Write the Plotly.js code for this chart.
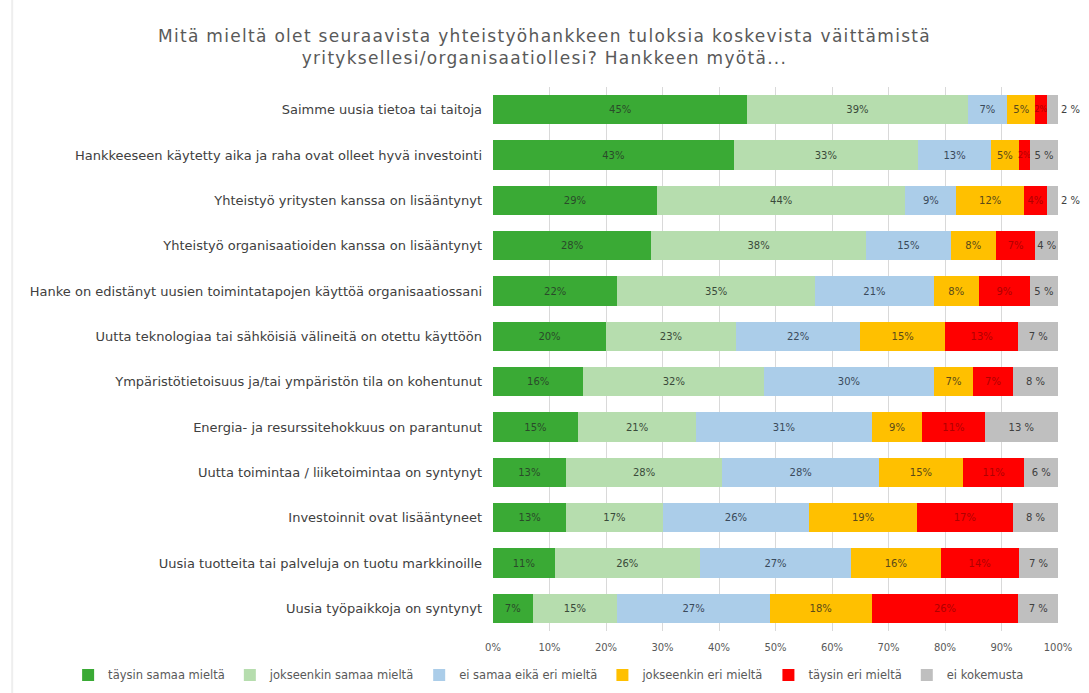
<!DOCTYPE html>
<html>
<head>
<meta charset="utf-8">
<script src="https://cdn.plot.ly/plotly-3.0.1.min.js"></script>
<style>
html,body{margin:0;padding:0;background:#fff;}
#chart{width:1089px;height:693px;}
#chart .gtitle{letter-spacing:1.3px;}
</style>
</head>
<body>
<div id="chart"></div>
<script>
const categories = [
  "Saimme uusia tietoa tai taitoja",
  "Hankkeeseen käytetty aika ja raha ovat olleet hyvä investointi",
  "Yhteistyö yritysten kanssa on lisääntynyt",
  "Yhteistyö organisaatioiden kanssa on lisääntynyt",
  "Hanke on edistänyt uusien toimintatapojen käyttöä organisaatiossani",
  "Uutta teknologiaa tai sähköisiä välineitä on otettu käyttöön",
  "Ympäristötietoisuus ja/tai ympäristön tila on kohentunut",
  "Energia- ja resurssitehokkuus on parantunut",
  "Uutta toimintaa / liiketoimintaa on syntynyt",
  "Investoinnit ovat lisääntyneet",
  "Uusia tuotteita tai palveluja on tuotu markkinoille",
  "Uusia työpaikkoja on syntynyt"
];
const seriesNames = ["täysin samaa mieltä","jokseenkin samaa mieltä","ei samaa eikä eri mieltä","jokseenkin eri mieltä","täysin eri mieltä","ei kokemusta"];
const taysinSamaa     = [45,43,29,28,22,20,16,15,13,13,11,7];
const jokseenkinSamaa = [39,33,44,38,35,23,32,21,28,17,26,15];
const eiSamaaEikaEri  = [7,13,9,15,21,22,30,31,28,26,27,27];
const jokseenkinEri   = [5,5,12,8,8,15,7,9,15,19,16,18];
const taysinEri       = [2,2,4,7,9,13,7,11,11,17,14,26];
const eiKokemusta     = [2,5,2,4,5,7,8,13,6,8,7,7];
const tickValues = [0,10,20,30,40,50,60,70,80,90,100];
const tickLabels = ["0%","10%","20%","30%","40%","50%","60%","70%","80%","90%","100%"];

const seriesValues = [taysinSamaa, jokseenkinSamaa, eiSamaaEikaEri, jokseenkinEri, taysinEri, eiKokemusta];
const colors = ["#3aaa35","#b6ddae","#abcde9","#ffc000","#ff0000","#bfbfbf"];
const textColors = ["#2a4a2a","#3a4a3a","#3a4a5a","#5a4a1a","#b00000","#404040"];
const suffix = ["%","%","%","%","%"," %"];
const FONT = "DejaVu Sans, Verdana, sans-serif";

const traces = seriesValues.map((vals, i) => {
  const isLast = i === seriesValues.length - 1;
  return {
    type: "bar",
    orientation: "h",
    name: seriesNames[i],
    y: categories,
    x: vals,
    marker: {color: colors[i], line: {width: 0}},
    text: vals.map(v => v + suffix[i]),
    textposition: isLast ? vals.map(v => v <= 2 ? "outside" : "inside") : "inside",
    insidetextanchor: "middle",
    constraintext: "none",
    cliponaxis: false,
    textangle: 0,
    textfont: {family: FONT, size: vals.map(v => v <= 2 ? 8 : 10), color: textColors[i]},
    outsidetextfont: {family: FONT, size: 10, color: textColors[i]},
    hoverinfo: "x+y+name"
  };
});

const layout = {
  width: 1089, height: 693,
  barmode: "stack",
  barnorm: "percent",
  bargap: 0.36,
  paper_bgcolor: "#ffffff",
  plot_bgcolor: "#ffffff",
  margin: {l: 493, r: 31, t: 87, b: 62, autoexpand: false},
  title: {
    text: "Mitä mieltä olet seuraavista yhteistyöhankkeen tuloksia koskevista väittämistä<br>yrityksellesi/organisaatiollesi? Hankkeen myötä...",
    font: {family: FONT, size: 17, color: "#595959"},
    x: 0.5, xanchor: "center", xref: "container",
    y: 0.94, yanchor: "top", yref: "container"
  },
  xaxis: {
    range: [0, 100],
    tickvals: tickValues,
    ticktext: tickLabels,
    showgrid: true, gridcolor: "#d9d9d9", gridwidth: 1,
    zeroline: false, showline: false,
    ticklabelstandoff: 9,
    tickfont: {family: FONT, size: 10, color: "#595959"},
    fixedrange: true
  },
  yaxis: {
    autorange: "reversed",
    type: "category",
    showgrid: false, zeroline: false, showline: false,
    ticks: "", ticklabelstandoff: 10,
    tickfont: {family: FONT, size: 13, color: "#404040"},
    fixedrange: true
  },
  legend: {
    orientation: "h",
    xref: "paper", x: -0.752, xanchor: "left",
    yref: "paper", y: -0.054, yanchor: "top",
    font: {family: FONT, size: 11.5, color: "#595959"},
    itemwidth: 30,
    traceorder: "normal"
  },
  shapes: [{
    type: "line", xref: "paper", yref: "paper",
    x0: -0.851, x1: -0.851, y0: -0.12, y1: 1.16,
    line: {color: "#eeeeee", width: 2}
  }],
  showlegend: true
};

Plotly.newPlot("chart", traces, layout, {displayModeBar: false, staticPlot: true});
</script>
</body>
</html>
